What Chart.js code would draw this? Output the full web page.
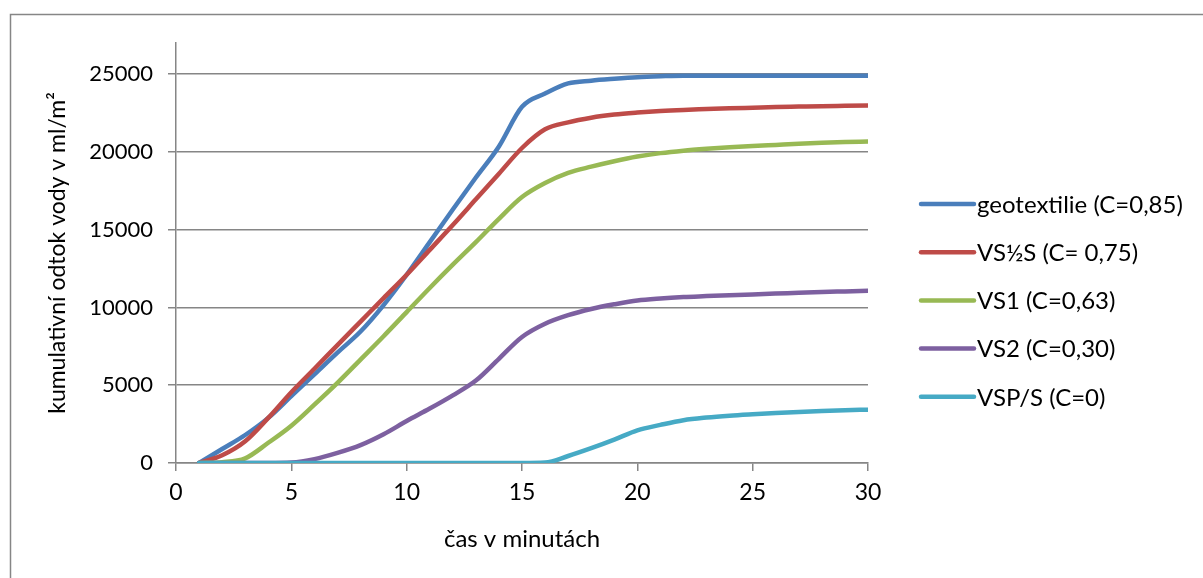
<!DOCTYPE html>
<html>
<head>
<meta charset="utf-8">
<script src="https://cdn.jsdelivr.net/npm/chart.js@4"></script>
<style>
  html, body { margin: 0; padding: 0; background: #ffffff; }
  #wrap { position: relative; width: 1203px; height: 578px; }
</style>
</head>
<body>
<div id="wrap"><canvas id="c" width="1203" height="578"></canvas></div>
<script>
// time in minutes
const minutes = [1,2,3,4,5,6,7,8,9,10,11,12,13,14,15,16,17,18,19,20,21,22,23,24,25,26,27,28,29,30];

// cumulative runoff (ml/m²) per surface type
const geotextilie = [0,900,1800,2900,4300,5700,7100,8450,10150,12100,14200,16300,18350,20350,22900,23750,24400,24580,24700,24800,24860,24900,24900,24900,24900,24900,24900,24900,24900,24900];
const vsHalfS = [0,500,1400,2900,4550,6060,7580,9090,10600,12100,13700,15300,16950,18600,20250,21450,21900,22200,22400,22530,22630,22700,22750,22800,22840,22880,22910,22940,22960,22980];
const vs1 = [0,50,300,1300,2400,3750,5150,6650,8150,9700,11250,12750,14200,15700,17100,18000,18650,19050,19400,19700,19920,20080,20200,20300,20380,20450,20520,20580,20630,20670];
const vs2 = [0,0,0,0,30,250,650,1150,1850,2700,3500,4350,5300,6700,8100,8950,9500,9900,10200,10450,10580,10670,10730,10790,10840,10890,10940,10990,11030,11070];
const vspS = [0,0,0,0,0,0,0,0,0,0,0,0,0,0,0,30,450,950,1500,2100,2450,2750,2920,3040,3130,3210,3280,3340,3390,3430];

const seriesLabels = ['geotextilie (C=0,85)', 'VS½S (C= 0,75)', 'VS1 (C=0,63)', 'VS2 (C=0,30)', 'VSP/S (C=0)'];
const seriesColors = ['#4A7EBB', '#BE4B48', '#98B954', '#7D60A0', '#46AAC5'];
const seriesValues = [geotextilie, vsHalfS, vs1, vs2, vspS];

const xTicks = [0, 5, 10, 15, 20, 25, 30];
const yTicks = [0, 5000, 10000, 15000, 20000, 25000];

const FONT = 'Lato, "Noto Sans", sans-serif';
const GRID = '#868686';

const datasets = seriesValues.map((vals, i) => ({
  label: seriesLabels[i],
  data: minutes.map((m, k) => ({ x: m, y: vals[k] })),
  borderColor: seriesColors[i],
  backgroundColor: seriesColors[i],
  borderWidth: 4.5,
  borderCapStyle: 'round',
  borderJoinStyle: 'round',
  pointRadius: 0,
  cubicInterpolationMode: 'monotone',
  order: seriesValues.length - i
}));

// outer frame of the chart area
const framePlugin = {
  id: 'frame',
  beforeDraw(chart) {
    const ctx = chart.ctx;
    ctx.save();
    ctx.strokeStyle = GRID;
    ctx.lineWidth = 1.5;
    ctx.strokeRect(10.5, 14.5, 1400, 800);
    ctx.restore();
  }
};

// legend: line samples with series names, stacked on the right
const sideLegend = {
  id: 'sideLegend',
  afterDraw(chart) {
    const ctx = chart.ctx;
    ctx.save();
    ctx.font = '24px ' + FONT;
    ctx.textBaseline = 'middle';
    ctx.textAlign = 'left';
    chart.data.datasets.forEach((ds, i) => {
      const y = 204 + i * 48.2;
      ctx.strokeStyle = ds.borderColor;
      ctx.lineWidth = 4.5;
      ctx.lineCap = 'round';
      ctx.beginPath();
      ctx.moveTo(921, y);
      ctx.lineTo(974, y);
      ctx.stroke();
      ctx.fillStyle = '#000000';
      ctx.fillText(ds.label, 977, y + 1);
    });
    ctx.restore();
  }
};

new Chart(document.getElementById('c'), {
  type: 'line',
  data: { datasets },
  plugins: [framePlugin, sideLegend],
  options: {
    responsive: false,
    animation: false,
    events: [],
    layout: { padding: { left: 36, right: 335, top: 43, bottom: 5 } },
    plugins: { legend: { display: false }, tooltip: { enabled: false } },
    scales: {
      x: {
        type: 'linear',
        min: 0,
        max: 30,
        afterBuildTicks(scale) { scale.ticks = xTicks.map(v => ({ value: v })); },
        afterFit(scale) { scale.height = 110; },
        grid: { drawOnChartArea: false, drawTicks: true, tickLength: 8, color: GRID, lineWidth: 1.5 },
        border: { display: true, color: GRID, width: 1.5 },
        ticks: { color: '#000000', font: { family: FONT, size: 23 }, padding: 8, maxRotation: 0, callback: v => String(v) },
        title: { display: true, text: 'čas v minutách', color: '#000000', font: { family: FONT, size: 24 }, padding: { top: 4, bottom: 19 } }
      },
      y: {
        type: 'linear',
        min: 0,
        max: 27000,
        afterBuildTicks(scale) { scale.ticks = yTicks.map(v => ({ value: v })); },
        afterFit(scale) { scale.width = 140; },
        grid: { drawOnChartArea: true, drawTicks: true, tickLength: 8, color: GRID, lineWidth: 1.5 },
        border: { display: true, color: GRID, width: 1.5 },
        ticks: { color: '#000000', font: { family: FONT, size: 22 }, padding: 15, callback: v => String(v) },
        title: { display: true, text: 'kumulativní odtok vody v ml/m²', color: '#000000', font: { family: FONT, size: 23 }, padding: { top: 8, bottom: 4 } }
      }
    }
  }
});
</script>
</body>
</html>
